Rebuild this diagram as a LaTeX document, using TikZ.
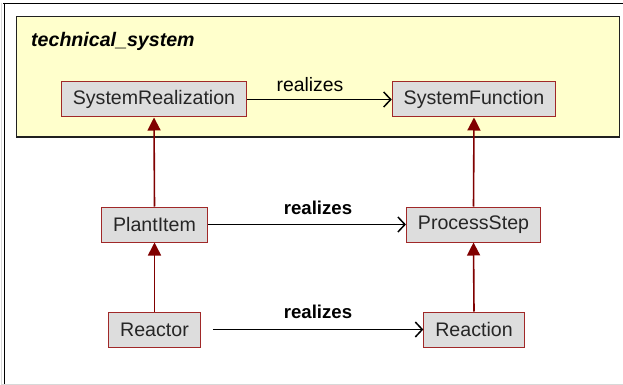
\documentclass[tikz,border=0pt]{standalone}
\usepackage{fontspec}
\setmainfont{Liberation Sans}
\usetikzlibrary{arrows.meta}
\definecolor{boxfill}{HTML}{DDDDDD}
\definecolor{boxline}{HTML}{A02828}
\definecolor{genred}{HTML}{800000}
\definecolor{pkgfill}{HTML}{FFFFCC}
\definecolor{pkgline}{HTML}{202020}
\definecolor{framegray}{HTML}{D8D8D8}
\tikzset{
  cls/.style={draw=boxline, fill=boxfill, line width=1pt, minimum height=35pt,
    inner xsep=11.5pt, inner ysep=0pt, font=\fontsize{19.6}{22}\selectfont, text=black!85},
  gen/.style={draw=genred, line width=1.6pt, -{Triangle[length=13pt,width=13pt]}},
  real/.style={draw=black, line width=1.5pt, -{Straight Barb[length=7pt,width=15pt,line width=1.5pt]}},
  lbl/.style={anchor=base, inner sep=0pt, font=\fontsize{19.4}{22}\selectfont},
  lblb/.style={anchor=base, inner sep=0pt, font=\fontsize{18.6}{22}\selectfont\bfseries}
}
\begin{document}
\begin{tikzpicture}[x=1pt,y=-1pt]
\useasboundingbox (0,0) rectangle (623,385);
\fill[white] (0,0) rectangle (623,385);
% outer frame pieces
\draw[framegray, line width=1pt] (1,3) -- (1,385);
\draw[framegray, line width=1pt] (1,384.5) -- (623,384.5);
\draw[black, line width=1.4pt] (3,3.5) -- (623,3.5);
\draw[black, line width=1.4pt] (4.5,3) -- (4.5,384);
% package
\draw[pkgline, fill=pkgfill, line width=1.2pt] (16.5,16.5) rectangle (619.5,137);
\node[anchor=base west, inner sep=0pt, font=\fontsize{19.6}{22}\selectfont\bfseries\itshape] (title) at (31,47) {technical\_system};
% classes
\node[cls] (sr) at (154,99.5) {SystemRealization};
\node[cls] (sf) at (474,99.5) {SystemFunction};
\node[cls] (pi) at (154.5,224.5) {PlantItem};
\node[cls] (ps) at (473.5,224.5) {ProcessStep};
\node[cls] (re) at (154.5,329.5) {Reactor};
\node[cls] (rn) at (474,329.5) {Reaction};
% realizes arrows
\draw[real] (sr.east) -- (sf.west);
\draw[real] (pi.east) -- (ps.west);
\draw[real, shorten <=12pt] (re.east) -- (rn.west);
\node[lbl] (l1) at (310,91.5) {realizes};
\node[lblb] (l2) at (318,214) {realizes};
\node[lblb] (l3) at (318,318) {realizes};
% generalization arrows
\draw[gen] (pi.north) -- (sr.south);
\draw[gen] (ps.north) -- (sf.south);
\draw[gen] (re.north) -- (pi.south);
\draw[gen] (rn.north) -- (ps.south);
\end{tikzpicture}
\end{document}
